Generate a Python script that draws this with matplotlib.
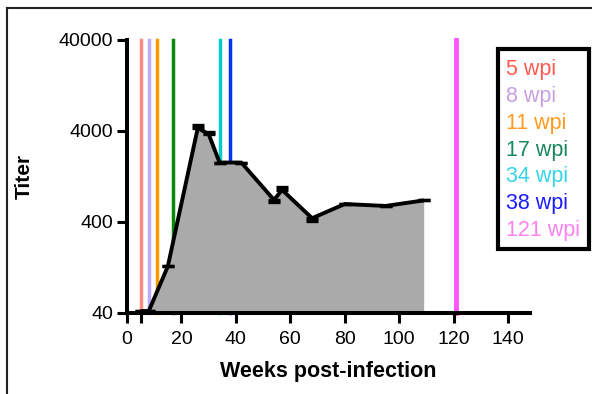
import matplotlib.pyplot as plt
from matplotlib.lines import Line2D

plt.rcParams['font.family'] = ['Liberation Sans', 'DejaVu Sans']

# mean titer by week post-infection
weeks = [5, 8, 15, 26, 30, 34, 42, 54, 57, 68, 80, 95, 109]
titer = [42, 42, 130, 4300, 3700, 1800, 1800, 700, 900, 440, 630, 600, 690]
err_lo = [0, 0, 0, 0, 0, 0, 0, 40, 0, 25, 0, 0, 0]
err_hi = [0, 0, 0, 300, 180, 0, 0, 0, 80, 0, 0, 0, 0]

# sampling time points
wpi = [5, 8, 11, 17, 34, 38, 121]
wpi_colors = ['#ff8a80', '#c0a8ff', '#ff9900', '#0a8a0a', '#00cccc', '#0033ff', '#ff55ff']
text_colors = ['#ff5a50', '#c8a0e0', '#ff9a1f', '#17875a', '#33d6e6', '#1a1aff', '#ff80f0']

fig = plt.figure(figsize=(5.92, 3.94), dpi=100)
ax = fig.add_axes([0.2145, 0.2056, 0.6805, 0.693])

for w, c in zip(wpi, wpi_colors):
    ax.plot([w, w], [40, 40000], color=c, lw=3.5 if w == 121 else 2.5,
            zorder=1, clip_on=False)

ax.fill_between(weeks, titer, 40, color='#aaaaaa', lw=0, zorder=2)
ax.plot(weeks, titer, color='black', lw=2.8, zorder=3, clip_on=False,
        solid_capstyle='butt')
ax.errorbar(weeks, titer, yerr=[err_lo, err_hi], fmt='none', ecolor='black',
            elinewidth=1.8, capsize=4.5, capthick=2.4, zorder=4, clip_on=False)

ax.set_yscale('log')
ax.set_ylim(40, 40000)
ax.set_xlim(0, 148)
ax.set_yticks([40, 400, 4000, 40000])
ax.set_yticklabels(['40', '400', '4000', '40000'])
ax.minorticks_off()
ax.set_xticks([0, 20, 40, 60, 80, 100, 120, 140])
ax.set_xticks([5], minor=True)
ax.tick_params(axis='both', which='both', direction='out', length=7, width=2.2,
               labelsize=14, pad=3)
ax.tick_params(axis='x', which='minor', length=7, width=2.2)
ax.tick_params(axis='x', pad=6)

for s in ['top', 'right']:
    ax.spines[s].set_visible(False)
for s in ['left', 'bottom']:
    ax.spines[s].set_linewidth(2.9)
ax.spines['left'].set_bounds(40, 40000)

ax.set_xlabel('Weeks post-infection', fontsize=15.5, fontweight='bold', labelpad=9)
ax.set_ylabel('Titer', fontsize=15, fontweight='bold', labelpad=18)

# legend box on the right
lx0, ly0, lx1, ly1 = 498 / 592, 1 - 249 / 394, 589 / 592, 1 - 49 / 394
fig.add_artist(plt.Rectangle((lx0, ly0), lx1 - lx0, ly1 - ly0, fill=False,
                             lw=3, ec='black', transform=fig.transFigure))
for i, (w, c) in enumerate(zip(wpi, text_colors)):
    fig.text(lx0 + 8 / 592, 1 - (70 + i * 26.7) / 394, f'{w} wpi', color=c,
             fontsize=15.5, va='center', ha='left')

# outer frame
fig.add_artist(Line2D([7 / 592, 7 / 592], [0, 1 - 8 / 394], color='#222222',
                      lw=1.5, transform=fig.transFigure))
fig.add_artist(Line2D([7 / 592, 1], [1 - 8 / 394, 1 - 8 / 394], color='#222222',
                      lw=1.5, transform=fig.transFigure))

fig.savefig('out.png', dpi=100)
